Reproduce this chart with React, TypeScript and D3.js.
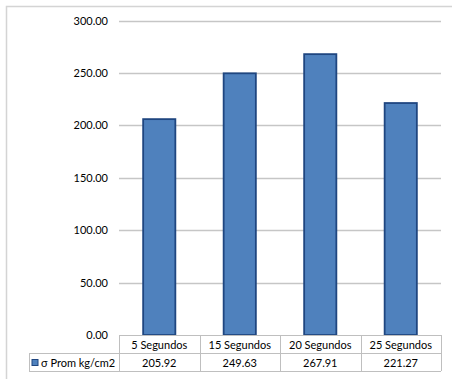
import React from "react";
import * as d3 from "d3";

const categories = ["5 Segundos", "15 Segundos", "20 Segundos", "25 Segundos"];
const values = [205.92, 249.63, 267.91, 221.27];
const seriesName = "σ Prom kg/cm2";
const yTicks = [0, 50, 100, 150, 200, 250, 300];

const W = 452;
const H = 379;
const FONT = "Lato, 'Open Sans', sans-serif";

export default function App() {
  const left = 119;
  const right = 441;
  const top = 20.5;
  const bottom = 335;
  const tableLeft = 29;
  const rowMid = 353;
  const rowBottom = 371;

  const x = d3.scaleBand<string>().domain(categories).range([left, right]).paddingInner(0.6).paddingOuter(0.3);
  const xCell = d3.scaleBand<string>().domain(categories).range([left, right]);
  const y = d3.scaleLinear().domain([0, 300]).range([bottom, top]);

  const grid = "#c6c6c6";
  const tableLine = "#bfbfbf";

  return (
    <svg width={W} height={H} style={{ position: "absolute", left: 0, top: 0 }}>
      <rect x={0} y={0} width={W} height={H} fill="#fff" />
      {/* chart area frame */}
      <rect x={6.5} y={6.5} width={W + 10} height={H + 10} fill="none" stroke="#d4d4d4" strokeWidth={1.5} />

      {/* gridlines and value axis labels */}
      {yTicks.map((t) => (
        <g key={t}>
          {t > 0 && (
            <line x1={left} x2={right} y1={Math.round(y(t)) + 0.5} y2={Math.round(y(t)) + 0.5} stroke={grid} strokeWidth={1.3} />
          )}
          <text x={108} y={y(t) + 4} textAnchor="end" fontSize={11} fontFamily={FONT} fill="#000">
            {t.toFixed(2)}
          </text>
        </g>
      ))}

      {/* bars */}
      {categories.map((c, i) => (
        <rect
          key={c}
          x={x(c)!}
          y={y(values[i])}
          width={x.bandwidth()}
          height={bottom - y(values[i])}
          fill="#4f81bd"
          stroke="#1f4680"
          strokeWidth={1.8}
        />
      ))}

      {/* data table */}
      <g stroke={tableLine} strokeWidth={1} fill="none">
        <line x1={left} x2={right} y1={bottom + 0.5} y2={bottom + 0.5} />
        <line x1={tableLeft} x2={right} y1={rowMid + 0.5} y2={rowMid + 0.5} />
        <line x1={tableLeft} x2={right} y1={rowBottom + 0.5} y2={rowBottom + 0.5} />
        <line x1={tableLeft + 0.5} x2={tableLeft + 0.5} y1={rowMid} y2={rowBottom} />
        {categories.map((c) => (
          <line key={c} x1={Math.round(xCell(c)!) + 0.5} x2={Math.round(xCell(c)!) + 0.5} y1={bottom} y2={rowBottom} />
        ))}
        <line x1={right + 0.5} x2={right + 0.5} y1={bottom} y2={rowBottom} />
      </g>
      {categories.map((c, i) => (
        <g key={c}>
          <text
            x={xCell(c)! + xCell.bandwidth() / 2}
            y={(bottom + rowMid) / 2 + 4.5}
            textAnchor="middle"
            fontSize={11}
            fontFamily={FONT}
          >
            {c}
          </text>
          <text
            x={xCell(c)! + xCell.bandwidth() / 2}
            y={(rowMid + rowBottom) / 2 + 4.5}
            textAnchor="middle"
            fontSize={11}
            fontFamily={FONT}
          >
            {values[i].toFixed(2)}
          </text>
        </g>
      ))}
      <rect x={32} y={(rowMid + rowBottom) / 2 - 2.5} width={6} height={6} fill="#4f81bd" stroke="#1f4680" strokeWidth={1} />
      <text x={41} y={(rowMid + rowBottom) / 2 + 4.5} fontSize={11} fontFamily={FONT}>
        {seriesName}
      </text>
    </svg>
  );
}
